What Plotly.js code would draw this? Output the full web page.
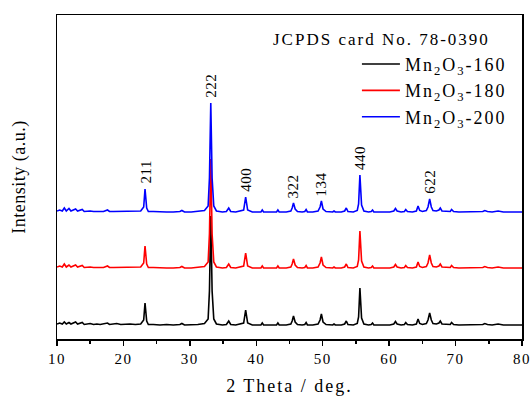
<!DOCTYPE html>
<html>
<head>
<meta charset="utf-8">
<script src="https://cdn.plot.ly/plotly-3.0.1.min.js"></script>
<style>
html,body{margin:0;padding:0;background:#fff;}
#chart{width:531px;height:396px;}
.xtick text{letter-spacing:1.5px;}
</style>
</head>
<body>
<div id="chart"></div>
<script>
// 2θ positions (deg)
const twoTheta = [
  10, 10.4, 10.8, 11.1, 11.4, 11.8, 12.1, 12.5, 12.8, 13.1,
  13.5, 13.8, 14.1, 14.6, 15.0, 15.5, 16.0, 16.5, 17.0, 17.6,
  17.9, 18.5, 19.0, 19.6, 20.2, 21.0, 21.8, 22.6, 23.05, 23.25,
  23.5, 23.75, 24.5, 25.5, 26.5, 27.5, 28.5, 28.8, 29.2, 30.2,
  31.2, 32.2, 32.75, 32.95, 33.15, 33.35, 33.6, 34.0, 34.9, 35.5,
  35.85, 36.15, 36.9, 38.1, 38.4, 38.7, 39.4, 40.7, 40.9, 41.1,
  42.0, 43.05, 43.25, 43.45, 44.5, 45.2, 45.4, 45.6, 45.85, 46.2,
  46.9, 47.3, 47.5, 47.7, 48.5, 49.3, 49.6, 49.8, 50.05, 50.5,
  51.5, 51.7, 51.9, 52.8, 53.3, 53.55, 53.8, 54.6, 55.2, 55.4,
  55.6, 55.85, 56.2, 56.9, 57.3, 57.5, 57.7, 58.8, 60.1, 60.7,
  60.95, 61.2, 61.8, 62.3, 62.5, 62.75, 63.5, 64.1, 64.35, 64.6,
  65.0, 65.6, 65.85, 66.1, 66.35, 66.6, 67.1, 67.5, 67.7, 67.95,
  68.6, 69.2, 69.4, 69.7, 70.5, 71.3, 72.2, 73.2, 74.1, 74.4,
  74.8, 75.5, 76.1, 76.4, 77.2, 78.2, 79.1, 80.0
];
// Intensities (a.u.) for each sample
const int160 = [
  2, 3, 2, 4, 2, 3.5, 2, 3, 4, 2,
  2.5, 3.5, 1.5, 2, 2.5, 1.5, 2, 1.5, 2, 3,
  1.5, 2, 2.5, 1.5, 2, 2, 1.5, 2, 6, 23,
  5, 1.5, 1.5, 1, 1.5, 1, 1.5, 2.5, 1, 1,
  1.5, 2.5, 7, 35, 110, 35, 7, 2, 1, 1.5,
  5, 1.5, 1, 3, 16, 3, 1, 1, 3, 1,
  1, 1, 3, 1, 1, 2, 5, 10, 4, 1.5,
  1, 1.5, 3.5, 1, 1, 2, 6, 12, 4, 1.5,
  1, 2, 1, 1, 2, 5, 1.5, 1, 2.5, 9,
  38, 8, 2, 1, 1.5, 3, 1, 1, 1, 2,
  4.5, 2, 1, 1.5, 3.5, 1.5, 1, 2, 7, 2.5,
  1.5, 2.5, 6, 13, 6, 2.5, 2, 3, 5, 2,
  1.5, 1.5, 3.5, 1.5, 1, 1, 1, 1, 1.5, 2.5,
  1.5, 1, 1.5, 2, 1, 1, 1, 1
];
const int180 = [
  2, 3, 2, 5, 2, 4, 2, 3, 4, 2,
  2.5, 3.5, 1.5, 2, 2, 1.5, 1.5, 1.5, 1.5, 3,
  1.5, 1.5, 1.5, 1.5, 1.5, 1.5, 1.5, 2, 6, 23,
  5, 1.5, 1.5, 1, 1, 1, 1.5, 2.5, 1, 1,
  1.5, 2.5, 7, 35, 110, 35, 7, 2, 1, 1.5,
  5, 1.5, 1, 3, 16, 3, 1, 1, 3, 1,
  1, 1, 3, 1, 1, 2, 5, 10, 4, 1.5,
  1, 1.5, 3.5, 1, 1, 2, 6, 12, 4, 1.5,
  1, 2, 1, 1, 2, 5, 1.5, 1, 2.5, 9,
  38, 8, 2, 1, 1.5, 3, 1, 1, 1, 2,
  4.5, 2, 1, 1.5, 3.5, 1.5, 1, 2, 7, 2.5,
  1.5, 2.5, 6, 14, 6, 2.5, 2, 3, 5, 2,
  1.5, 1.5, 3.5, 1.5, 1, 1, 1, 1, 1.5, 2.5,
  1.5, 1, 1.5, 2, 1, 1, 1, 1
];
const int200 = [
  2, 3, 2, 5, 2, 4.5, 2, 3, 4, 2,
  2.5, 3.5, 1.5, 2, 2, 1.5, 1.5, 1.5, 1.5, 3,
  1.5, 1.5, 1.5, 1.5, 1.5, 1.5, 1.5, 2, 6, 24,
  5, 1.5, 1.5, 1, 1, 1, 1.5, 2.5, 1, 1,
  1.5, 2.5, 7, 35, 110, 35, 7, 2, 1, 1.5,
  5, 1.5, 1, 3, 16, 3, 1, 1, 3, 1,
  1, 1, 3, 1, 1, 2, 5, 10, 4, 1.5,
  1, 1.5, 3.5, 1, 1, 2, 6, 12, 4, 1.5,
  1, 2, 1, 1, 2, 5, 1.5, 1, 2.5, 9,
  38, 8, 2, 1, 1.5, 3, 1, 1, 1, 2,
  4.5, 2, 1, 1.5, 3.5, 1.5, 1, 2, 7, 2.5,
  1.5, 2.5, 6, 14, 6, 2.5, 2, 3, 5, 2,
  1.5, 1.5, 3.5, 1.5, 1, 1, 1, 1, 1.5, 2.5,
  1.5, 1, 1.5, 2, 1, 1, 1, 1
];
const seriesNames = ['Mn<sub>2</sub>O<sub>3</sub>-160', 'Mn<sub>2</sub>O<sub>3</sub>-180', 'Mn<sub>2</sub>O<sub>3</sub>-200'];
const seriesColors = ['#000000', '#ff0000', '#0000ff'];
const stackOffsets = [13, 70, 126];
// Miller indices labels and their peak positions
const hklLabels = ['211', '222', '400', '322', '134', '440', '622'];
const hklPos = [23.25, 33.15, 38.4, 45.6, 49.8, 55.6, 66.1];
const cardText = 'JCPDS card No. 78-0390';
const xTitle = '2 Theta / deg.';
const yTitle = 'Intensity (a.u.)';

const series = [int160, int180, int200];
const FONT = 'Liberation Serif, Times New Roman, serif';
const spaced = (t, px) => '<span style="letter-spacing:' + px + 'px">' + t + '</span>';

const traces = series.map((ys, i) => ({
  x: twoTheta,
  y: ys.map(v => v + stackOffsets[i]),
  type: 'scatter',
  mode: 'lines',
  name: spaced(seriesNames[i], 2),
  legendgroup: 'g' + i,
  line: {color: seriesColors[i], width: 1.6}
}));

const blue = int200;
const annotations = hklLabels.map((lab, k) => {
  const idx = twoTheta.indexOf(hklPos[k]);
  return {
    x: hklPos[k], y: blue[idx] + stackOffsets[2] + 3,
    xref: 'x', yref: 'y',
    text: spaced(lab, 0.5), showarrow: false, textangle: -90,
    xanchor: 'center', yanchor: 'bottom',
    font: {family: FONT, size: 15, color: '#000'}
  };
});
annotations.push({
  x: 0.698, y: 0.925, xref: 'paper', yref: 'paper',
  text: spaced(cardText, 2), showarrow: false, xanchor: 'center', yanchor: 'middle',
  font: {family: FONT, size: 17, color: '#000'}
});

const layout = {
  width: 531, height: 396,
  margin: {l: 57, r: 9, t: 15, b: 57},
  paper_bgcolor: '#fff', plot_bgcolor: '#fff',
  showlegend: true,
  legend: {
    x: 0.645, xanchor: 'left', y: 0.905, yanchor: 'top',
    font: {family: FONT, size: 18, color: '#000'},
    bgcolor: 'rgba(0,0,0,0)', traceorder: 'normal', tracegroupgap: 4, itemwidth: 38
  },
  xaxis: {
    range: [10, 80], dtick: 10, tick0: 10,
    showline: true, mirror: true, linecolor: '#000', linewidth: 1.5,
    ticks: 'outside', ticklen: 5, tickwidth: 1.5, tickcolor: '#000',
    minor: {dtick: 5, ticks: 'outside', ticklen: 3, tickwidth: 1.5, tickcolor: '#000'},
    showgrid: false, zeroline: false,
    tickfont: {family: FONT, size: 15, color: '#000'},
    title: {text: spaced(xTitle, 2), font: {family: FONT, size: 18, color: '#000'}, standoff: 21}
  },
  yaxis: {
    range: [0, 324],
    showline: true, mirror: true, linecolor: '#000', linewidth: 1.5,
    ticks: '', showticklabels: false, showgrid: false, zeroline: false,
    title: {text: spaced(yTitle, 0.5), font: {family: FONT, size: 18, color: '#000'}, standoff: 25}
  },
  annotations: annotations
};

Plotly.newPlot('chart', traces, layout, {displayModeBar: false, staticPlot: true});
</script>
</body>
</html>
